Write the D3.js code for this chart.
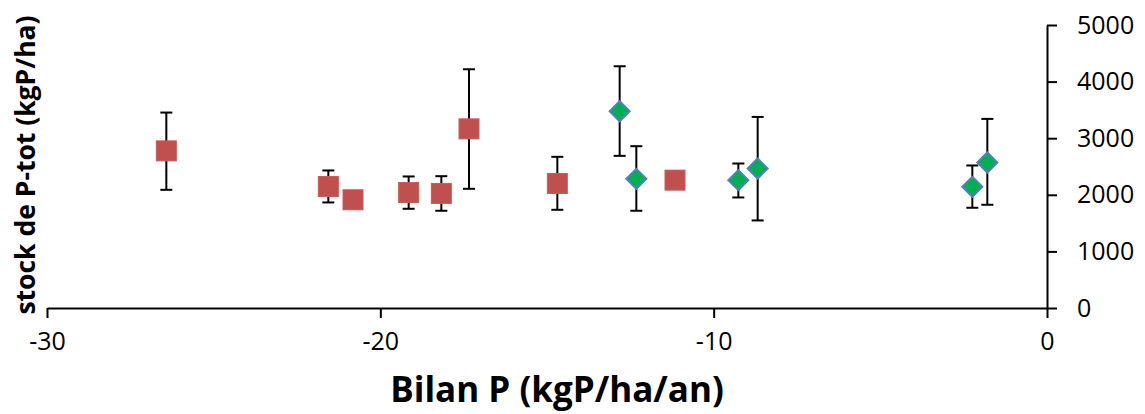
<!DOCTYPE html>
<html>
<head>
<meta charset="utf-8">
<script src="https://cdn.jsdelivr.net/npm/d3@7"></script>
<style>
  body { margin: 0; background: #fff; }
  svg text { font-family: "Open Sans", "Liberation Sans", sans-serif; }
</style>
</head>
<body>
<svg id="chart"></svg>
<script>
// red squares: bilan, stock, error low / high
const redX = [-26.42, -21.56, -20.82, -19.15, -18.17, -17.34, -14.69, -11.16];
const redY = [2776, 2147, 1912, 2041, 2024, 3165, 2200, 2259];
const redLo = [2088, 1865, null, 1753, 1718, 2106, 1735, null];
const redHi = [3453, 2430, null, 2324, 2329, 4218, 2671, null];

// green diamonds
const greenX = [-12.82, -12.32, -9.26, -8.68, -2.24, -1.79];
const greenY = [3476, 2282, 2259, 2465, 2141, 2571];
const greenLo = [2688, 1718, 1953, 1547, 1771, 1824];
const greenHi = [4271, 2859, 2553, 3376, 2518, 3341];

const xTicks = [-30, -20, -10, 0];
const yTicks = [0, 1000, 2000, 3000, 4000, 5000];

const width = 1145, height = 414;
const margin = { top: 25, bottom: 106, left: 47, right: 98 };

const svg = d3.select('#chart')
  .attr('width', width)
  .attr('height', height);

const x = d3.scaleLinear().domain([-30, 0]).range([margin.left, width - margin.right]);
const y = d3.scaleLinear().domain([0, 5000]).range([height - margin.bottom, margin.top]);

// x axis
const xAxis = d3.axisBottom(x).tickValues(xTicks).tickFormat(d => String(d))
  .tickSize(10).tickSizeOuter(0).tickPadding(14);
const xg = svg.append('g')
  .attr('transform', `translate(0,${y(0)})`)
  .call(xAxis);
xg.select('.domain').attr('stroke', '#000').attr('stroke-width', 2);
xg.selectAll('.tick line').attr('stroke', '#000').attr('stroke-width', 2);
xg.selectAll('.tick text').attr('font-size', 25).attr('fill', '#000')
  .style('font-family', '"Open Sans", sans-serif');

// y axis on the right at x = 0
const yAxis = d3.axisRight(y).tickValues(yTicks).tickFormat(d => String(d))
  .tickSize(10).tickSizeOuter(0).tickPadding(20);
const yg = svg.append('g')
  .attr('transform', `translate(${x(0)},0)`)
  .call(yAxis);
yg.select('.domain').attr('stroke', '#000').attr('stroke-width', 2);
yg.selectAll('.tick line').attr('stroke', '#000').attr('stroke-width', 2);
yg.selectAll('.tick text').attr('font-size', 25).attr('fill', '#000')
  .style('font-family', '"Open Sans", sans-serif');

// error bars
function errorBars(xs, ys, lo, hi) {
  const g = svg.append('g').attr('stroke', '#000').attr('stroke-width', 2);
  xs.forEach((v, i) => {
    if (lo[i] == null) return;
    const cx = x(v);
    g.append('line').attr('x1', cx).attr('x2', cx).attr('y1', y(lo[i])).attr('y2', y(hi[i]));
    g.append('line').attr('x1', cx - 6).attr('x2', cx + 6).attr('y1', y(lo[i])).attr('y2', y(lo[i]));
    g.append('line').attr('x1', cx - 6).attr('x2', cx + 6).attr('y1', y(hi[i])).attr('y2', y(hi[i]));
  });
}
errorBars(redX, redY, redLo, redHi);
errorBars(greenX, greenY, greenLo, greenHi);

// red squares
svg.append('g').selectAll('rect')
  .data(redX.map((v, i) => [v, redY[i]]))
  .join('rect')
  .attr('x', d => x(d[0]) - 10)
  .attr('y', d => y(d[1]) - 10)
  .attr('width', 20)
  .attr('height', 20)
  .attr('fill', '#C0504D')
  .attr('stroke', '#C95A57')
  .attr('stroke-width', 1);

// green diamonds
svg.append('g').selectAll('path')
  .data(greenX.map((v, i) => [v, greenY[i]]))
  .join('path')
  .attr('d', d => {
    const cx = x(d[0]), cy = y(d[1]), r = 10;
    return `M${cx},${cy - r}L${cx + r},${cy}L${cx},${cy + r}L${cx - r},${cy}Z`;
  })
  .attr('fill', '#00B050')
  .attr('stroke', '#4F81BD')
  .attr('stroke-width', 2);

// titles
svg.append('text')
  .attr('x', 557)
  .attr('y', 402)
  .attr('text-anchor', 'middle')
  .attr('font-size', 35)
  .attr('font-weight', 'bold')
  .text('Bilan P (kgP/ha/an)');

svg.append('text')
  .attr('transform', `translate(35,165) rotate(-90)`)
  .attr('text-anchor', 'middle')
  .attr('font-size', 26.5)
  .attr('font-weight', 'bold')
  .text('stock de P-tot (kgP/ha)');
</script>
</body>
</html>
